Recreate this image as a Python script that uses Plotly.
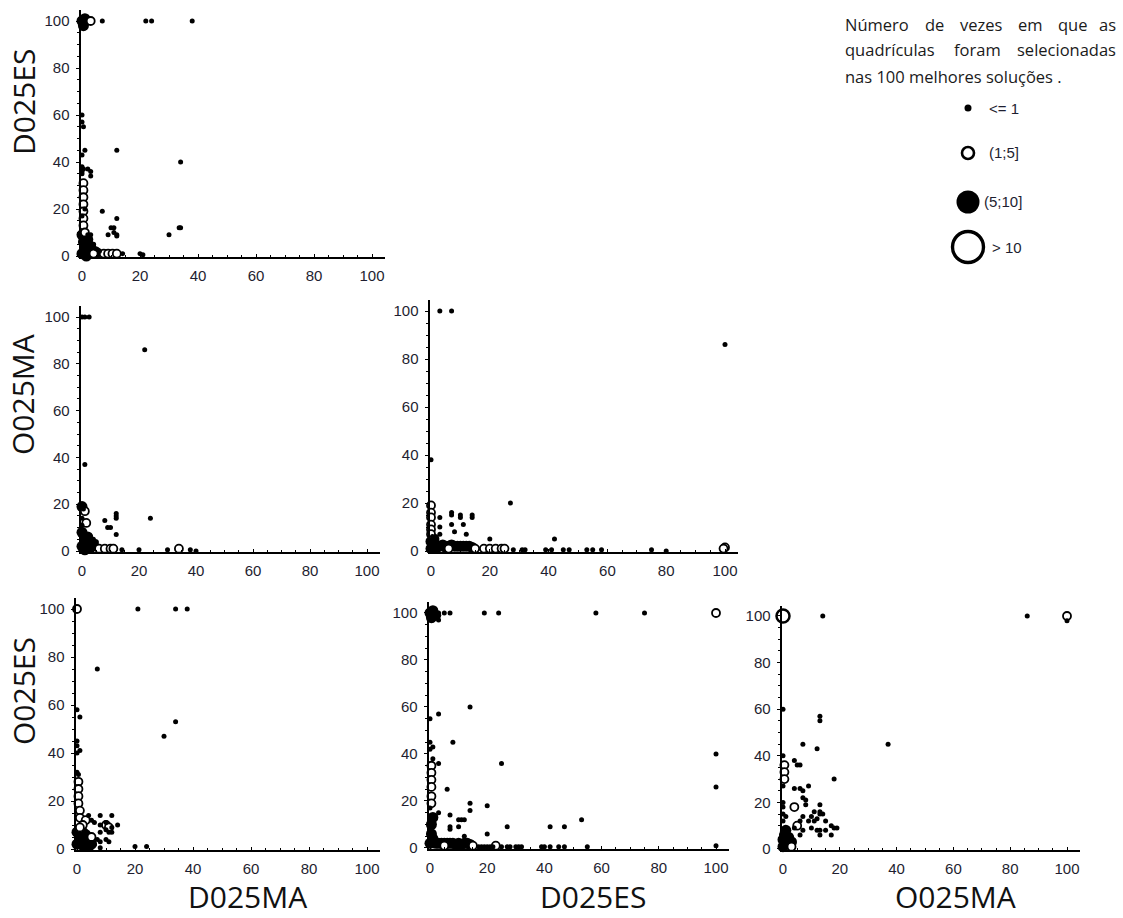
import plotly.graph_objects as go

W, H = 1123, 918

# ---------------- data ----------------
var_names = ["D025MA", "D025ES", "O025MA", "O025ES"]
bin_labels = ["<= 1", "(1;5]", "(5;10]", "> 10"]
legend_counts = [1, 3, 7, 15]
note_lines = [["Número", "de", "vezes", "em", "que", "as"],
              ["quadrículas", "foram", "selecionadas"],
              ["nas 100 melhores soluções ."]]

# panel 1: x = D025MA, y = D025ES
p1_x = [0, 1, 0.5, 3, 7, 22, 24, 38,
        0, 0, 0.5, 1, 0, 12, 34, 0, 0.5, 0, 2, 3, 3, 0,
        0.5, 0.5, 0.5, 0.5, 0.5, 0.5, 0.5, 1, 1, 0,
        7, 12, 9, 10, 11, 12, 11, 12, 30, 34, 33.5, 2, 3,
        0, 1, 0.5, 2, 3, 1.5, 4, 5, 2, 0, 1,
        4, 7.5, 9, 10.5, 12, 14, 20, 21, 5, 6, 4]
p1_y = [100, 101, 98, 100, 100, 100, 100, 100,
        60, 57, 55, 45, 43, 45, 40, 38, 37, 36, 37, 36, 34, 35,
        31, 28, 25, 22, 19, 16, 13, 10, 20, 17,
        19, 16, 9, 12, 12, 9, 10, 8.5, 9, 12, 12, 9, 9,
        1, 3, 6, 2, 4, 0, 2, 1.5, 7, 9, 5,
        1, 1, 1, 1, 1, 1, 1, 0.5, 3, 2, 5]
p1_n = [7, 7, 7, 3, 1, 1, 1, 1,
        1, 1, 1, 1, 1, 1, 1, 1, 1, 1, 1, 1, 1, 1,
        3, 3, 3, 3, 3, 3, 3, 3, 1, 1,
        1, 1, 1, 1, 1, 1, 1, 1, 1, 1, 1, 1, 1,
        7, 7, 7, 7, 7, 7, 7, 7, 7, 7, 7,
        3, 3, 3, 3, 3, 1, 1, 1, 1, 1, 1]

# panel 2: x = D025MA, y = O025MA
p2_x = [0, 1, 2.5, 22, 1, 24, 8, 9, 10, 12, 12, 12, 12,
        0, 0.5, 1, 1.5,
        0, 1, 0, 2, 1, 3, 4, 2, 0, 0, 3, 4, 5,
        6, 8, 10, 11, 34, 14, 20, 30, 38, 40]
p2_y = [100, 100, 100, 86, 37, 14, 13, 10, 10, 15, 16, 14, 7,
        19, 18, 17, 12,
        2, 5, 8, 3, 0.5, 1.5, 3, 6, 11, 14, 6, 5, 4,
        1, 1, 1, 1, 1, 0.5, 0.5, 0.5, 0.5, 0]
p2_n = [1, 1, 1, 1, 1, 1, 1, 1, 1, 1, 1, 1, 1,
        7, 1, 3, 3,
        7, 7, 7, 7, 7, 7, 7, 7, 1, 1, 1, 1, 1,
        3, 3, 3, 3, 3, 1, 1, 1, 1, 1]

# panel 3: x = D025ES, y = O025MA
p3_x = [3, 7, 100, 0, 27,
        3, 3, 3, 7, 7, 7, 8, 10, 10, 11, 12, 14, 14, 20, 42,
        0, 0, 0, 0, 0, 0, 0.5,
        0, 1, 2, 3, 4, 5, 6, 7, 8, 9, 10, 11, 12, 13, 14, 0, 1,
        6, 15, 18, 20, 22, 24, 25,
        28, 31, 32, 39, 41, 45, 47, 53, 55, 58, 75, 80, 100, 99.5]
p3_y = [100, 100, 86, 38, 20,
        14, 10, 7, 16, 15, 11, 8, 15, 14, 11, 7, 15, 14, 5, 5,
        19, 16, 14, 11, 9, 7, 6,
        1, 3, 1.5, 2, 2.5, 1.5, 2, 2.5, 2, 2, 2, 2, 2, 2, 1.5, 4, 5,
        1, 1, 1, 1, 1, 1, 1,
        0.5, 0.5, 0.5, 0.5, 0.5, 0.5, 0.5, 0.5, 0.5, 0.5, 0.5, 0, 1.5, 1]
p3_n = [1, 1, 1, 1, 1,
        1, 1, 1, 1, 1, 1, 1, 1, 1, 1, 1, 1, 1, 1, 1,
        3, 3, 3, 3, 3, 3, 1,
        7, 7, 7, 7, 7, 7, 7, 7, 7, 7, 7, 7, 7, 7, 7, 7, 7,
        3, 3, 3, 3, 3, 3, 3,
        1, 1, 1, 1, 1, 1, 1, 1, 1, 1, 1, 1, 3, 3]

# panel 4: x = D025MA, y = O025ES
p4_x = [0, 21, 34, 38, 7, 0, 1, 30, 34, 0, 0, 1, 0, 0, 0.5,
        0.5, 0.5, 0.5, 0.5, 1, 1, 3, 2, 5, 10, 11, 1,
        0, 1, 2, 3, 4, 0, 2, 5, 3,
        4, 5, 6, 8, 8, 8, 8, 8, 10, 10, 11, 12, 12, 12, 14, 10, 11, 20, 24, 6, 7]
p4_y = [100, 100, 100, 100, 75, 58, 55, 47, 53, 45, 43, 41, 40, 32, 31,
        28, 25, 22, 19, 16, 13, 12, 10, 5, 10, 9, 9,
        2, 5, 1.5, 3, 1, 7, 7, 2, 6,
        14, 12, 11, 14, 10, 7, 3, 0.5, 11, 8, 7, 9, 7, 14, 10, 4, 3, 1, 1, 2, 4]
p4_n = [3, 1, 1, 1, 1, 1, 1, 1, 1, 1, 1, 1, 1, 1, 1,
        3, 3, 3, 3, 3, 3, 3, 3, 3, 3, 3, 3,
        7, 7, 7, 7, 7, 7, 7, 7, 7,
        1, 1, 1, 1, 1, 1, 1, 1, 1, 1, 1, 1, 1, 1, 1, 1, 1, 1, 1, 1, 1]

# panel 5: x = D025ES, y = O025ES
p5_x = [0, 1, 2, 0.5, 3, 5, 7, 19, 24, 58, 75, 100, 3, 1,
        14, 3, 0, 8, 0, 1, 0, 1, 3, 25, 6, 100, 100, 100,
        0.5, 0.5, 0.5, 0.5, 0.5, 0.5,
        0, 0, 3, 14, 14, 20, 20, 7, 7, 7, 10, 12, 27, 42, 47, 53, 10, 11, 12,
        0, 0.5, 0.5, 1, 1, 2,
        3, 4, 5, 6, 7, 8, 9, 10, 11, 12, 13, 14,
        15, 23, 5,
        17, 18, 19, 20, 21, 22, 25, 27, 28, 30, 31, 32, 39, 40, 42, 45, 47, 55]
p5_y = [100, 101, 99, 98, 100, 100, 100, 100, 100, 100, 100, 100, 97, 97,
        60, 57, 55, 45, 45, 43, 42, 38, 36, 36, 25, 40, 26, 1,
        35, 32, 29, 26, 22, 19,
        17, 13, 15, 19, 16, 18, 6, 14, 9, 8, 9, 5, 9, 9, 9, 12, 12, 12, 12,
        2, 6, 10, 13, 4, 2,
        2, 2, 2, 2, 2, 2, 1.5, 2, 1.5, 2, 2, 1.5,
        1, 1, 1,
        0.5, 0.5, 0.5, 0.5, 0.5, 0.5, 0.5, 0.5, 0.5, 0.5, 0.5, 0.5, 0.5, 0.5, 0.5, 0.5, 0.5, 0.5]
p5_n = [7, 7, 7, 7, 1, 1, 1, 1, 1, 1, 1, 3, 1, 1,
        1, 1, 1, 1, 1, 1, 1, 1, 1, 1, 1, 1, 1, 1,
        3, 3, 3, 3, 3, 3,
        1, 1, 1, 1, 1, 1, 1, 1, 1, 1, 1, 1, 1, 1, 1, 1, 1, 1, 1,
        7, 7, 7, 7, 7, 7,
        7, 7, 7, 7, 7, 7, 7, 7, 7, 7, 7, 7,
        3, 3, 3,
        1, 1, 1, 1, 1, 1, 1, 1, 1, 1, 1, 1, 1, 1, 1, 1, 1, 1]

# panel 6: x = O025MA, y = O025ES
p6_x = [0, 14, 86, 100, 100, 13, 13, 7, 12, 37, 18, 0, 0, 4, 5, 6, 4, 6, 7, 9, 7, 8, 8,
        0.5, 0.5, 0.5, 4, 5, 3,
        0, 0, 0, 0, 0, 1,
        10, 11, 12, 13, 13, 14, 15, 13, 10, 12, 13, 13, 17, 18, 19, 17, 15, 11, 9, 6, 7, 6, 7, 4,
        0, 1, 0.5, 2, 1, 2, 3, 0]
p6_y = [100, 100, 100, 100, 98, 57, 55, 45, 43, 45, 30, 60, 40, 38, 36, 36, 26, 26, 25, 27, 22, 21, 19,
        36, 33, 30, 18, 10, 1,
        27, 20, 18, 15, 12, 14,
        14, 12, 13, 15, 16, 15, 12, 19, 9, 8, 8, 6, 10, 9, 9, 6, 8, 16, 12, 6, 8, 12, 14, 9,
        1, 3, 6, 2, 8, 5, 3, 4]
p6_n = [15, 1, 1, 3, 1, 1, 1, 1, 1, 1, 1, 1, 1, 1, 1, 1, 1, 1, 1, 1, 1, 1, 1,
        3, 3, 3, 3, 3, 3,
        1, 1, 1, 1, 1, 1,
        1, 1, 1, 1, 1, 1, 1, 1, 1, 1, 1, 1, 1, 1, 1, 1, 1, 1, 1, 1, 1, 1, 1, 1,
        7, 7, 7, 7, 7, 7, 7, 7]

# ---------------- layout geometry (pixel positions of value 0 and 100) ----------------
panels = [
    dict(x=p1_x, y=p1_y, n=p1_n, px=(82, 372), py=(256, 21)),
    dict(x=p2_x, y=p2_y, n=p2_n, px=(82, 367), py=(551, 317)),
    dict(x=p3_x, y=p3_y, n=p3_n, px=(431, 725), py=(551, 311)),
    dict(x=p4_x, y=p4_y, n=p4_n, px=(77, 367), py=(849, 609)),
    dict(x=p5_x, y=p5_y, n=p5_n, px=(430, 716), py=(848, 613)),
    dict(x=p6_x, y=p6_y, n=p6_n, px=(783, 1067), py=(849, 616)),
]
LO, HI = -0.5, 104.5


def dom_x(p0, p100):
    s = (p100 - p0) / 100
    return [(p0 + LO * s) / W, (p0 + HI * s) / W]


def dom_y(p0, p100):
    s = (p0 - p100) / 100
    return [1 - (p0 - LO * s) / H, 1 - (p0 - HI * s) / H]


def cat(v):
    if v <= 1:
        return 0
    if v <= 5:
        return 1
    if v <= 10:
        return 2
    return 3


styles = [
    dict(size=5, color="black", opacity=1, line=dict(width=0)),
    dict(size=8, color="white", opacity=1, line=dict(color="black", width=1.8)),
    dict(size=11, color="black", opacity=1, line=dict(width=0)),
    dict(size=13, color="white", opacity=1, line=dict(color="black", width=2.5)),
]
draw_order = [2, 3, 1, 0]

fig = go.Figure()
tickfont = dict(family="Arial", size=15, color="#1e1e30")
annotations = []

for i, p in enumerate(panels, start=1):
    xa = "x" if i == 1 else f"x{i}"
    ya = "y" if i == 1 else f"y{i}"
    cats = [cat(v) for v in p["n"]]
    for c in draw_order:
        xs = [xv for xv, cc in zip(p["x"], cats) if cc == c]
        ys = [yv for yv, cc in zip(p["y"], cats) if cc == c]
        if not xs:
            continue
        fig.add_trace(go.Scatter(x=xs, y=ys, mode="markers", xaxis=xa, yaxis=ya,
                                 marker=dict(symbol="circle", **styles[c]),
                                 cliponaxis=False, showlegend=False, hoverinfo="skip"))
    common = dict(range=[LO, HI], showline=True, linecolor="black", linewidth=2,
                  showgrid=False, zeroline=False, tickmode="linear", tick0=0, dtick=20,
                  ticklen=3, tickwidth=1, tickcolor="black", tickfont=tickfont,
                  automargin=False)
    fig.update_layout(**{
        ("xaxis" if i == 1 else f"xaxis{i}"): dict(
            domain=dom_x(*p["px"]), anchor=ya, ticks="inside",
            minor=dict(ticks="inside", ticklen=2, tickmode="linear", tick0=0, dtick=5,
                       tickcolor="black", showgrid=False),
            ticklabelstandoff=4, **common),
        ("yaxis" if i == 1 else f"yaxis{i}"): dict(
            domain=dom_y(*p["py"]), anchor=xa, ticks="outside",
            minor=dict(ticks="outside", ticklen=2, tickmode="linear", tick0=0, dtick=5,
                       tickcolor="black", showgrid=False),
            ticklabelstandoff=3, **common),
    })

# axis titles
title_font = dict(family="Open Sans", size=30, color="#111111")
row_title_y = {var_names[1]: 102, var_names[2]: 395, var_names[3]: 691}
for name, yc in row_title_y.items():
    annotations.append(dict(text=name, xref="paper", yref="paper", x=23 / W, y=1 - yc / H,
                            textangle=-90, showarrow=False, font=title_font,
                            xanchor="center", yanchor="middle"))
col_title_x = {var_names[0]: 247, var_names[1]: 593, var_names[2]: 955}
for name, xc in col_title_x.items():
    annotations.append(dict(text=name, xref="paper", yref="paper", x=xc / W, y=1 - 896 / H,
                            showarrow=False, font=title_font, xanchor="center", yanchor="middle"))

# note text (justified lines)
note_font = dict(family="Open Sans", size=16.5, color="#1a1a1a")
line_y = [24, 50, 76]
word_x = [[843, 923, 957.5, 1015.5, 1055.5, 1118],
          [843, 951.5, 1118],
          [843]]
for li, words in enumerate(note_lines):
    for wi, w in enumerate(words):
        last = (wi == len(words) - 1) and len(words) > 1
        annotations.append(dict(text=w, xref="paper", yref="paper",
                                x=word_x[li][wi] / W, y=1 - line_y[li] / H,
                                xanchor="right" if last else "left", yanchor="middle",
                                showarrow=False, font=note_font))

# legend glyphs on a hidden axis
leg_y = [108, 153, 202, 247]
fig.add_trace(go.Scatter(
    x=[0, 0, 0, 0], y=leg_y, mode="markers", xaxis="x7", yaxis="y7",
    marker=dict(symbol="circle", opacity=1,
                size=[7, 12, 23, 31],
                color=["black", "white", "black", "white"],
                line=dict(color="black", width=[0, 2.6, 0, 3.4])),
    cliponaxis=False, showlegend=False, hoverinfo="skip"))
fig.update_layout(
    xaxis7=dict(domain=[958 / W, 978 / W], range=[-1, 1], visible=False, anchor="y7",
                automargin=False),
    yaxis7=dict(domain=[1 - 265 / H, 1 - 90 / H], range=[265, 90], visible=False, anchor="x7",
                automargin=False),
)
leg_label_x = [987, 987, 982, 990]
for lab, lx, ly in zip(bin_labels, leg_label_x, leg_y):
    annotations.append(dict(text=lab, xref="paper", yref="paper", x=lx / W, y=1 - ly / H,
                            xanchor="left", yanchor="middle", showarrow=False,
                            font=dict(family="Arial", size=15, color="#1e1e30")))

fig.update_layout(width=W, height=H, margin=dict(l=0, r=0, t=0, b=0, autoexpand=False),
                  paper_bgcolor="white", plot_bgcolor="white",
                  showlegend=False, annotations=annotations)

fig.write_html("out.html", config={"displayModeBar": False},
               post_script="document.body.style.margin='0';document.body.style.overflow='hidden';")
